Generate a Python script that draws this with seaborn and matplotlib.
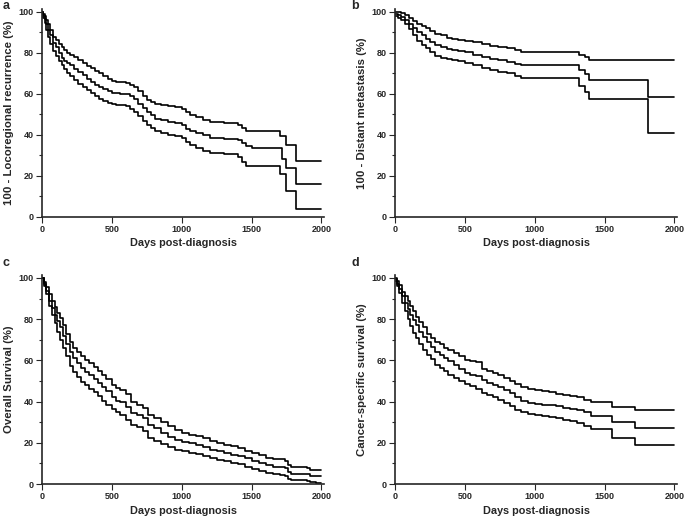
import matplotlib
matplotlib.use("Agg")
import matplotlib.pyplot as plt
from matplotlib.ticker import MultipleLocator
import seaborn as sns

# panel a: 100 - locoregional recurrence (upper CI, estimate, lower CI)
days_a = [0, 10, 20, 30, 45, 60, 80, 100, 120, 140, 160, 180, 200, 230, 260, 290, 320, 350,
          380, 410, 440, 470, 500, 530, 560, 600, 630, 660, 690, 720, 750, 780, 810, 850,
          900, 950, 1000, 1030, 1060, 1100, 1150, 1200, 1300, 1400, 1430, 1460, 1500,
          1700, 1720, 1750, 1790, 1820, 2000]
upper_a = [100, 99, 98, 96, 94, 91, 88, 86.5, 84.5, 83, 81.5, 80, 79, 78, 76.5, 75, 73.5, 72.5,
           71, 70, 68.5, 67.5, 66.5, 66, 66, 65.5, 64.5, 63.5, 61.5, 59, 57, 56, 55, 54.5,
           54, 53.5, 52.5, 51, 49.5, 48.5, 47.5, 46.5, 46, 45, 43.5, 42, 42,
           39.5, 39.5, 35, 35, 27.5, 27.5]
mid_a = [100, 98, 96.5, 94, 91, 88.5, 85, 83, 80, 77.5, 76, 75, 74, 72, 70.5, 69, 67.5, 66,
         64.5, 63.5, 62.5, 61.5, 60.5, 60.5, 60, 60, 59, 57.5, 55, 53, 51, 49.5, 48, 47.5,
         46.5, 46, 45, 43, 42, 41, 40, 38.5, 38, 37.5, 36, 34.5, 33.5,
         33.5, 28.5, 24, 24, 16, 16]
lower_a = [100, 97, 94.5, 91, 88, 84.5, 81, 78.5, 76, 74, 72, 70, 68.5, 67, 65, 63.5, 62, 60.5,
           59, 57.5, 56.5, 55.5, 55, 54.5, 54.5, 54, 52.5, 51, 49, 47, 45, 43.5, 42, 41,
           40, 39.5, 38.5, 36.5, 35, 33.5, 32, 31, 30.5, 29, 27, 25, 25,
           21, 21, 12.5, 12.5, 4, 4]

# panel b: 100 - distant metastasis
days_b = [0, 20, 40, 70, 100, 130, 160, 190, 220, 250, 290, 330, 370, 410, 450, 500, 560,
          620, 680, 740, 800, 860, 900, 1000, 1100, 1200, 1300, 1320, 1360, 1390, 1810, 2000]
upper_b = [100, 100, 99.5, 98.5, 97, 95.5, 94, 93, 92, 90.5, 89, 88.5, 87.5, 87, 86.5, 86, 85.5,
           84.5, 83.5, 83, 82.5, 81.5, 80.5, 80.5, 80.5, 80.5, 80.5, 79, 78, 76.5, 76.5, 76.5]
mid_b = [99, 98.5, 97.5, 96, 94, 92, 90, 88.5, 87, 85.5, 84, 83, 82, 81.5, 81, 80.5, 79,
         78, 77, 76.5, 75.5, 74.5, 74, 74, 74, 74, 74, 71.5, 69.5, 67, 58.5, 58.5]
lower_b = [98, 97, 96, 94, 91.5, 88.5, 86, 84, 82.5, 80.5, 78.5, 77.5, 77, 76.5, 76, 75, 74,
           72.5, 71.5, 70.5, 70, 68.5, 68, 68, 68, 68, 68, 64, 61, 57.5, 41, 41]

# panel c: overall survival
days_c = [0, 15, 30, 50, 70, 90, 110, 130, 150, 175, 200, 225, 250, 280, 310, 340, 370, 400,
          430, 460, 500, 530, 560, 600, 640, 680, 720, 760, 800, 850, 900, 950, 1000, 1050,
          1100, 1150, 1200, 1250, 1300, 1350, 1400, 1450, 1500, 1550, 1600, 1650, 1700,
          1740, 1760, 1780, 1900, 1920, 1960, 2000]
upper_c = [100, 98, 95.5, 92, 89, 86, 83, 80.5, 77, 73, 69, 66, 64, 62, 60, 58.5, 57, 55,
           53, 51, 48, 46.5, 45.5, 43.5, 40, 38.5, 37, 33.5, 32, 30, 28, 26, 25, 24,
           23.5, 22.5, 21, 20, 19, 18.5, 17.5, 16, 15, 14, 12.5, 12, 12,
           11, 9, 8.5, 8, 7, 7, 7]
mid_c = [100, 97, 93.5, 89, 85.5, 82, 79, 76, 72, 68, 64, 61, 58.5, 56.5, 54.5, 53, 51, 49,
         47, 45, 42, 40.5, 40, 37.5, 34.5, 33.5, 32, 28.5, 27, 25, 23, 21.5, 20.5, 20,
         19, 18, 16.5, 16, 15, 14, 13.5, 12.5, 11, 10, 9, 8.5, 8.5,
         8, 6, 5, 5, 4, 4, 4]
lower_c = [100, 96, 92, 86.5, 82, 78, 74, 70, 66, 62, 57.5, 54.5, 52, 49.5, 48, 46, 44.5, 42.5,
           40.5, 38.5, 36.5, 35, 33.5, 31, 28.5, 27.5, 25.5, 22.5, 21, 19.5, 18, 16.5, 16, 15,
           14.5, 13.5, 12.5, 11.5, 11, 10, 9.5, 8.5, 7.5, 6.5, 5.5, 5, 4.5,
           4, 2.5, 2, 1.5, 1, 0.5, 0.5]

# panel d: cancer-specific survival
days_d = [0, 15, 30, 50, 70, 90, 110, 130, 150, 175, 200, 230, 260, 290, 320, 350, 380, 420,
          460, 500, 540, 580, 620, 660, 700, 740, 780, 820, 860, 900, 950, 1000, 1050, 1100,
          1150, 1200, 1250, 1300, 1350, 1400, 1530, 1550, 1710, 1720, 2000]
upper_d = [100, 98.5, 96.5, 93, 91, 89, 86.5, 84, 81, 78.5, 76, 73, 71, 69, 68, 66, 65, 63.5,
           62, 60, 59.5, 59, 56, 55, 54, 53, 51.5, 50, 48.5, 47, 46, 45.5, 45, 44.5,
           43.5, 43, 42.5, 42, 41, 40, 40, 37.5, 37.5, 36, 36]
mid_d = [99.5, 97, 94.5, 91, 88, 85, 82, 79.5, 77, 74, 71.5, 69, 66.5, 64, 62.5, 61, 59.5, 58,
         56, 54, 53, 52.5, 50.5, 49, 48, 47, 45.5, 44, 42, 40.5, 39.5, 39, 38.5, 38.5,
         38, 37, 36.5, 36, 35, 33, 33, 30, 30, 27, 27]
lower_d = [98.5, 96, 92.5, 88, 84, 80, 76.5, 73.5, 71, 68, 65, 62.5, 60.5, 58, 56.5, 55, 53, 51.5,
           50, 48.5, 47.5, 46, 44, 43, 42, 41, 39.5, 38, 36, 35, 34, 33.5, 33, 32.5,
           32, 31, 30.5, 29.5, 28, 26.5, 26.5, 22.5, 22.5, 19, 19]

panel_letters = ["a", "b", "c", "d"]
y_labels = ["100 - Locoregional recurrence (%)", "100 - Distant metastasis (%)",
            "Overall Survival (%)", "Cancer-specific survival (%)"]
x_label = "Days post-diagnosis"

sns.set_style("ticks")
plt.rcParams["font.family"] = ["Liberation Sans", "DejaVu Sans"]
plt.rcParams["font.weight"] = "bold"

fig = plt.figure(figsize=(6.85, 5.19), dpi=100)
rects = [[0.0613, 0.582, 0.412, 0.401], [0.5766, 0.582, 0.412, 0.401],
         [0.0613, 0.0674, 0.412, 0.403], [0.5766, 0.0674, 0.412, 0.403]]
panels = [(days_a, [upper_a, mid_a, lower_a]), (days_b, [upper_b, mid_b, lower_b]),
          (days_c, [upper_c, mid_c, lower_c]), (days_d, [upper_d, mid_d, lower_d])]
letter_pos = [(0.004, 1.0), (0.513, 1.0), (0.004, 0.504), (0.513, 0.504)]

for i, (days, curves) in enumerate(panels):
    ax = fig.add_axes(rects[i])
    for vals in curves:
        sns.lineplot(x=days, y=vals, ax=ax, color="black", linewidth=1.2,
                     drawstyle="steps-post", estimator=None, sort=False)
    ax.set_xlim(0, 2020)
    ax.set_ylim(0, 101.5)
    ax.set_xticks([0, 500, 1000, 1500, 2000])
    ax.set_yticks([0, 20, 40, 60, 80, 100])
    ax.yaxis.set_minor_locator(MultipleLocator(10))
    ax.tick_params(axis="both", which="major", labelsize=6.5, length=4, width=0.8, pad=2)
    ax.tick_params(axis="y", which="minor", length=2.5, width=0.8)
    for lab in ax.get_xticklabels() + ax.get_yticklabels():
        lab.set_fontweight("bold")
    ax.set_xlabel(x_label, fontsize=7.8, fontweight="bold", labelpad=3)
    ax.set_ylabel(y_labels[i], fontsize=8.2, fontweight="bold", labelpad=3)
    for s in ["left", "bottom"]:
        ax.spines[s].set_linewidth(1.2)
    sns.despine(ax=ax)
    fig.text(letter_pos[i][0], letter_pos[i][1], panel_letters[i], fontsize=9,
             fontweight="bold", va="top", ha="left")

fig.savefig("out.png", dpi=100)
